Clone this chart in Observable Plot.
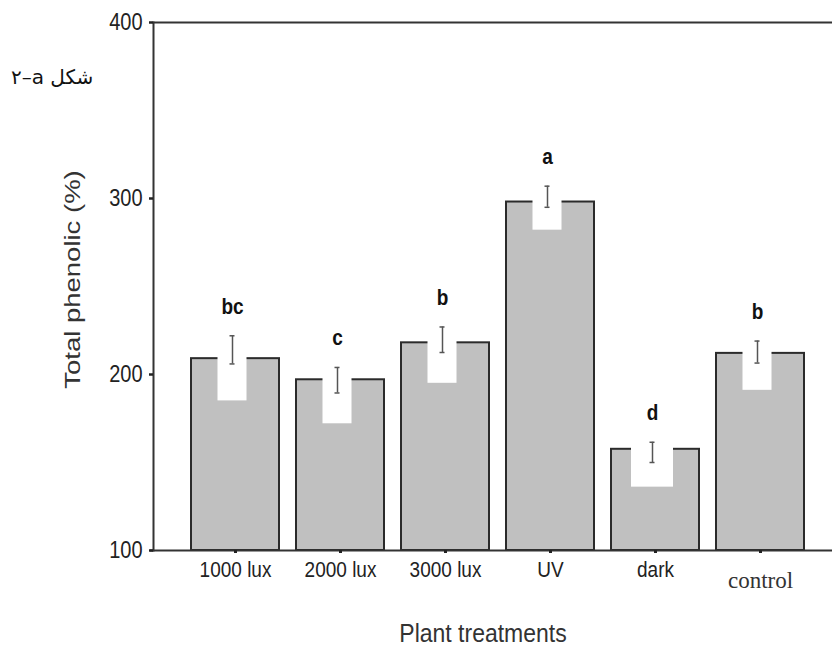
<!DOCTYPE html>
<html>
<head>
<meta charset="utf-8">
<script src="https://cdn.jsdelivr.net/npm/d3@7"></script>
<script src="https://cdn.jsdelivr.net/npm/@observablehq/plot@0.6"></script>
<style>
  html, body { margin: 0; padding: 0; background: #fff; }
  #wrap { position: relative; width: 832px; height: 649px; overflow: hidden; }
  #fig { position: absolute; left: 11px; top: 65px; font-family: "DejaVu Sans", "Noto Sans", sans-serif; font-size: 20px; color: #111; white-space: nowrap; }
  svg { display: block; }
</style>
</head>
<body>
<div id="wrap">
  <div id="chart"></div>
  <div id="fig" dir="ltr">۲–a شکل</div>
</div>
<script>
// ---- data ----
const categories = ["1000 lux", "2000 lux", "3000 lux", "UV", "dark", "control"];
const means      = [209, 197, 218, 298, 157.5, 212];
const notchLow   = [185, 172, 195, 282, 136, 191];
const errLow     = [206, 189.5, 212.5, 295, 150, 206.5];
const errHigh    = [222, 204, 227, 307, 161.5, 219];
const letters    = ["bc", "c", "b", "a", "d", "b"];
const yTicks     = [100, 200, 300, 400];
const yTitle     = "Total phenolic (%)";
const xTitle     = "Plant treatments";

const data = categories.map((c, i) => ({
  cat: c, mean: means[i], notch: notchLow[i], lo: errLow[i], hi: errHigh[i], letter: letters[i]
}));
const wide = ["dark"];

const font = "'Liberation Sans', Arial, Helvetica, sans-serif";

const chart = Plot.plot({
  width: 832,
  height: 649,
  marginLeft: 153,
  marginRight: 0,
  marginTop: 22,
  marginBottom: 99,
  style: { fontFamily: font, color: "#222", background: "white" },
  x: { domain: categories, range: [172.1, 823.8], padding: 0.16, label: null },
  y: { domain: [100, 400], label: null },
  marks: [
    Plot.barY(data, { x: "cat", y1: 100, y2: "mean", fill: "#c0c0c0", stroke: "#2b2b2b", strokeWidth: 2 }),
    Plot.barY(data.filter(d => !wide.includes(d.cat)), { x: "cat", y1: "notch", y2: "mean", fill: "white", insetLeft: 29.5, insetRight: 29.5, insetTop: -2, dx: -3 }),
    Plot.barY(data.filter(d => wide.includes(d.cat)), { x: "cat", y1: "notch", y2: "mean", fill: "white", insetLeft: 23, insetRight: 23, insetTop: -2, dx: -3 }),
    Plot.ruleX(data, { x: "cat", y1: "lo", y2: "hi", stroke: "#555", strokeWidth: 1.5, dx: -3 }),
    Plot.tickY(data, { x: "cat", y: "lo", stroke: "#555", strokeWidth: 1.5, insetLeft: 41.5, insetRight: 41.5, dx: -3 }),
    Plot.tickY(data, { x: "cat", y: "hi", stroke: "#555", strokeWidth: 1.5, insetLeft: 41.5, insetRight: 41.5, dx: -3 }),
    Plot.text(data, { x: "cat", y: "hi", text: "letter", dy: -22, dx: -3, lineAnchor: "bottom", fontWeight: "bold", fontSize: 19, fill: "#111" }),
    Plot.frame({ anchor: "left", stroke: "#333", strokeWidth: 2 }),
    Plot.ruleY([400], { stroke: "#333", strokeWidth: 2 }),
    Plot.ruleY([100], { stroke: "#333", strokeWidth: 2, insetLeft: -3 }),
    Plot.axisY({ ticks: yTicks, tickSize: 4, tickPadding: 7, fontSize: 20, strokeWidth: 2.5, stroke: "#222", label: null, fill: "#222" }),
    Plot.axisX({ tickSize: 3, tickPadding: 8, fontSize: 19, strokeWidth: 3, stroke: "#222", label: null, fill: "#222" }),
    Plot.text([yTitle], { frameAnchor: "left", dx: -81, dy: -7, rotate: -90, fontSize: 22, fill: "#333", textAnchor: "middle", lineAnchor: "middle" }),
    Plot.text([xTitle], { frameAnchor: "bottom", dx: -10, dy: 91, fontSize: 23, fill: "#333", textAnchor: "middle", lineAnchor: "bottom" })
  ]
});
document.getElementById("chart").appendChild(chart);

// the reference picture is stretched vertically: mimic with per-text scaling
function addTransform(node, s) {
  let t = node.getAttribute("transform");
  if (!t) {
    const x = +node.getAttribute("x") || 0, y = +node.getAttribute("y") || 0;
    node.setAttribute("x", 0); node.setAttribute("y", 0);
    t = `translate(${x},${y})`;
  }
  node.setAttribute("transform", t + " " + s);
}
const tickSet = new Set(categories);
const tickYSet = new Set(yTicks.map(String));
const letterSet = new Set(letters);
chart.querySelectorAll("text").forEach(n => {
  const s = n.textContent.trim();
  if (s === yTitle) addTransform(n, "scale(1.25,1)");
  else if (s === xTitle) addTransform(n, "scale(1,1.1)");
  else if (s === "control") {
    n.setAttribute("font-family", "'Liberation Serif', 'Times New Roman', serif");
    n.setAttribute("font-size", 23);
    n.setAttribute("fill", "#333");
    addTransform(n, "translate(0,10)");
  }
  else if (tickSet.has(s)) addTransform(n, "scale(1,1.15)");
  else if (tickYSet.has(s)) addTransform(n, "scale(1,1.15)");
  else if (letterSet.has(s)) addTransform(n, "scale(1,1.2)");
});
</script>
</body>
</html>
